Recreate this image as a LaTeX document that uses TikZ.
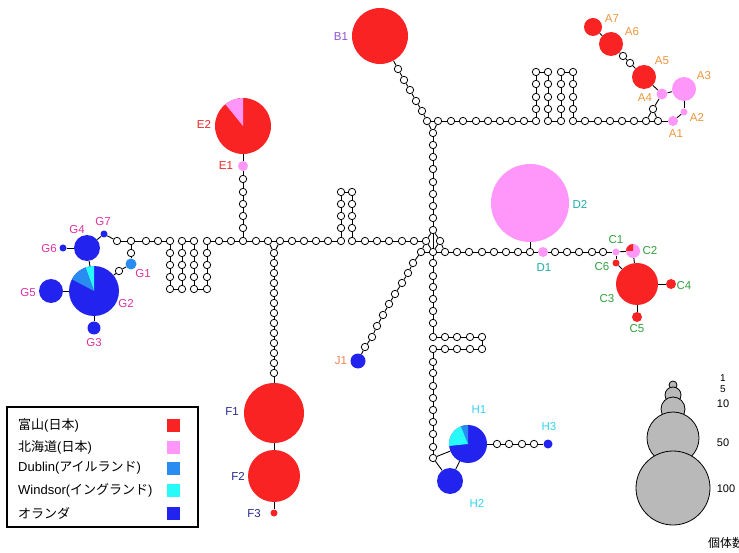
\documentclass[tikz,border=0pt]{standalone}
\usepackage{fontspec}
\setmainfont{Liberation Sans}
\newfontfamily\jp{Noto Sans CJK JP}
\definecolor{hred}{RGB}{250,35,35}
\definecolor{hpink}{RGB}{255,150,250}
\definecolor{hdub}{RGB}{40,140,240}
\definecolor{hwin}{RGB}{40,250,250}
\definecolor{hblue}{RGB}{35,35,240}
\definecolor{hgray}{RGB}{185,185,185}
\definecolor{cA}{RGB}{235,150,60}
\definecolor{cB}{RGB}{140,80,210}
\definecolor{cE}{RGB}{230,40,40}
\definecolor{cD}{RGB}{30,170,170}
\definecolor{cC}{RGB}{50,160,60}
\definecolor{cG}{RGB}{220,50,160}
\definecolor{cJ}{RGB}{240,130,80}
\definecolor{cF}{RGB}{40,40,140}
\definecolor{cH}{RGB}{50,210,240}
\tikzset{
 mut/.style={circle, draw, fill=white, line width=0.8pt, inner sep=0pt, minimum size=7.4pt},
 conn/.style={line width=0.9pt},
 lab/.style={font=\fontsize{11.5}{13}\selectfont, inner sep=0pt},
 legtext/.style={anchor=west, inner sep=0pt, font=\fontsize{13}{15}\selectfont},
 swatch/.style={inner sep=0pt, minimum size=13pt},
 scl/.style={circle, draw, fill=hgray, line width=0.8pt, inner sep=0pt},
 numlab/.style={font=\fontsize{11}{12}\selectfont, inner sep=0pt},
}
\newcommand\hap[4]{\node[circle, inner sep=0pt, minimum size={2*#3pt}, fill=#4] (#1) at (#2) {};}
\newcommand\pieslice[5]{\fill[#5] (#1.center) -- ++(-#3:#2) arc[start angle=-#3, end angle=-#4, radius=#2] -- cycle;}
\newcommand\mchain[2]{%
  \foreach \x/\y [count=\i, remember=\i as \j (initially 0)] in {#2} {%
    \node[mut] (#1\i) at (\x,\y) {};
    \ifnum\i>1 \draw[conn] (#1\j) -- (#1\i);\fi
  }%
}
\begin{document}
\begin{tikzpicture}[x=1pt,y=-1pt]
\useasboundingbox (0,0) rectangle (739,553);

% ---------- haplotypes ----------
\hap{B1}{380,36}{28}{hred}
\hap{E2}{243,126}{28}{hred}
\hap{E1}{243,166}{5}{hpink}
\hap{A1}{673,121}{5}{hpink}
\hap{A2}{684,112}{3.5}{hpink}
\hap{A3}{684,89}{12}{hpink}
\hap{A4}{662,94}{5.5}{hpink}
\hap{A5}{644,77}{12}{hred}
\hap{A6}{611,44}{12}{hred}
\hap{A7}{593,27}{9}{hred}
\hap{D2}{530,203}{39}{hpink}
\hap{D1}{543,252}{5}{hpink}
\hap{C1}{616,252}{3.5}{hpink}
\hap{C2}{633,251}{7}{hpink}
\hap{C6}{616,263}{3.5}{hred}
\hap{C3}{637,284}{21}{hred}
\hap{C4}{671,284}{5}{hred}
\hap{C5}{637,317}{5}{hred}
\hap{G7}{104,234}{3.5}{hblue}
\hap{G4}{87,248}{13}{hblue}
\hap{G6}{63,248}{3.5}{hblue}
\hap{G2}{94,291}{25}{hblue}
\hap{G5}{51,291}{12}{hblue}
\hap{G3}{94,328}{6.5}{hblue}
\hap{G1}{131,264}{5.5}{hdub}
\hap{J1}{358,361}{7.5}{hblue}
\hap{F1}{274,413}{30}{hred}
\hap{F2}{274,476}{26}{hred}
\hap{F3}{274,513}{3.5}{hred}
\hap{H1}{468,444}{19}{hblue}
\hap{H2}{450,481}{13}{hblue}
\hap{H3}{548,444}{4.5}{hblue}

\pieslice{E2}{28}{90}{129}{hpink}
\pieslice{G2}{25}{90}{110}{hwin}
\pieslice{G2}{25}{110}{152}{hdub}
\pieslice{H1}{19}{90}{112}{hdub}
\pieslice{H1}{19}{112}{186}{hwin}
\pieslice{C2}{7}{90}{180}{hred}

% ---------- mutation chains ----------
\mchain{L}{117/241,131/241,146/241,158/241,170/241,170/253,170/265,170/277,170/289,182/289,182/277,182/265,182/253,182/241,194/241,194/253,194/265,194/277,194/289,207/289,207/277,207/265,207/253,207/241,219/241,231/241,243/241,256/241,268/241,280/241,292/241,304/241,316/241,328/241,341/241,341/228,341/216,341/204,341/192,352/192,352/204,352/216,352/228,352/241,365/241,377/241,389/241,402/241,414/241}
\node[mut] (gm1) at (131,253) {};
\node[mut] (gm2) at (119,271) {};
\mchain{Ec}{243/228,243/216,243/204,243/192,243/179}
\mchain{Fc}{274/253,274/263,274/273,274/283,274/293,274/303,274/313,274/323,274/333,274/343,274/353,274/363,274/373}
% hub
\node[mut] (h1) at (433,230) {};
\node[mut] (h2) at (426,241) {};
\node[mut] (h3) at (440,241) {};
\node[mut] (h4) at (421,252) {};
\node[mut] (h5) at (433,252) {};
\node[mut] (h6) at (445,252) {};
\node[mut] (h7) at (433,263) {};
\mchain{Bc}{398/69,404/80,410/90,416/101,422/111,427/121}
\node[mut] (b2) at (438,121) {};
\node[mut] (b3) at (433,133) {};
\mchain{Vc}{433/145,433/157,433/169,433/182,433/194,433/206,433/218}
\mchain{Uc}{451/121,463/121,476/121,488/121,500/121,512/121,524/121,536/121,536/109,536/97,536/84,536/72,548/72,548/84,548/97,548/109,548/121,561/121,561/109,561/97,561/84,561/72,573/72,573/84,573/97,573/109,573/121,585/121,598/121,610/121,622/121,634/121,646/121}
\node[mut] (at1) at (658,121) {};
\node[mut] (at2) at (653,109) {};
\mchain{Ac}{630/63,623/56}
\mchain{Dc}{457/252,469/252,482/252,494/252,506/252,518/252,530/252}
\mchain{Dd}{555/252,567/252,579/252,592/252,603/252}
\mchain{Jc}{413/263,408/273,402/283,395/294,389/304,383/315,377/326,372/337,365/347}
\mchain{Sc}{433/276,433/287,433/299,433/311,433/323,433/337,445/337,457/337,470/337,482/337,482/349,470/349,457/349,445/349,433/349,433/362,433/373,433/386,433/398,433/410,433/422,433/434,433/447,433/458}
\mchain{Hc}{497/444,509/444,522/444,534/444}

% ---------- connectors ----------
\draw[conn] (G6) -- (G4);
\draw[conn] (G4) -- (G7);
\draw[conn] (G7) -- (L1);
\draw[conn] (G4) -- (G2);
\draw[conn] (G5) -- (G2);
\draw[conn] (G2) -- (G3);
\draw[conn] (G2) -- (gm2);
\draw[conn] (gm2) -- (G1);
\draw[conn] (G1) -- (gm1);
\draw[conn] (gm1) -- (L2);
\draw[conn] (L27) -- (Ec1);
\draw[conn] (Ec5) -- (E1);
\draw[conn] (E1) -- (E2);
\draw[conn] (L29) -- (Fc1);
\draw[conn] (L30) -- (Fc1);
\draw[conn] (Fc13) -- (F1);
\draw[conn] (F1) -- (F2);
\draw[conn] (F2) -- (F3);
\draw[conn] (L49) -- (h2);
\draw[conn] (h1) -- (h2);
\draw[conn] (h1) -- (h3);
\draw[conn] (h1) -- (h5);
\draw[conn] (h2) -- (h4);
\draw[conn] (h2) -- (h5);
\draw[conn] (h3) -- (h5);
\draw[conn] (h3) -- (h6);
\draw[conn] (h4) -- (h5);
\draw[conn] (h5) -- (h6);
\draw[conn] (h5) -- (h7);
\draw[conn] (B1) -- (Bc1);
\draw[conn] (Bc6) -- (b2);
\draw[conn] (Bc6) -- (b3);
\draw[conn] (b2) -- (b3);
\draw[conn] (b3) -- (Vc1);
\draw[conn] (Vc7) -- (h1);
\draw[conn] (b2) -- (Uc1);
\draw[conn] (Uc33) -- (at1);
\draw[conn] (Uc33) -- (at2);
\draw[conn] (at1) -- (at2);
\draw[conn] (at1) -- (A1);
\draw[conn] (at2) -- (A4);
\draw[conn] (A1) -- (A2);
\draw[conn] (A2) -- (A3);
\draw[conn] (A3) -- (A4);
\draw[conn] (A4) -- (A5);
\draw[conn] (A5) -- (Ac1);
\draw[conn] (Ac2) -- (A6);
\draw[conn] (A6) -- (A7);
\draw[conn] (h6) -- (Dc1);
\draw[conn] (Dc7) -- (D2);
\draw[conn] (Dc7) -- (D1);
\draw[conn] (D1) -- (Dd1);
\draw[conn] (Dd5) -- (C1);
\draw[conn] (C1) -- (C2);
\draw[conn] (C1) -- (C6);
\draw[conn] (C6) -- (C3);
\draw[conn] (C2) -- (C3);
\draw[conn] (C3) -- (C4);
\draw[conn] (C3) -- (C5);
\draw[conn] (h4) -- (Jc1);
\draw[conn] (Jc9) -- (J1);
\draw[conn] (h7) -- (Sc1);
\draw[conn] (Sc24) -- (H1);
\draw[conn] (Sc24) -- (H2);
\draw[conn] (H1) -- (H2);
\draw[conn] (H1) -- (Hc1);
\draw[conn] (Hc4) -- (H3);

% ---------- labels ----------
\node[lab, text=cA] (lA7) at (612,19) {A7};
\node[lab, text=cA] (lA6) at (632,32) {A6};
\node[lab, text=cA] (lA5) at (662,61) {A5};
\node[lab, text=cA] (lA3) at (704,76) {A3};
\node[lab, text=cA] (lA4) at (645,98) {A4};
\node[lab, text=cA] (lA2) at (697,117) {A2};
\node[lab, text=cA] (lA1) at (676,134) {A1};
\node[lab, text=cB] (lB1) at (341,37) {B1};
\node[lab, text=cE] (lE2) at (204,124) {E2};
\node[lab, text=cE] (lE1) at (226,166) {E1};
\node[lab, text=cD] (lD2) at (580,204) {D2};
\node[lab, text=cD] (lD1) at (544,268) {D1};
\node[lab, text=cC] (lC1) at (616,240) {C1};
\node[lab, text=cC] (lC2) at (650,251) {C2};
\node[lab, text=cC] (lC6) at (602,267) {C6};
\node[lab, text=cC] (lC3) at (607,299) {C3};
\node[lab, text=cC] (lC4) at (684,286) {C4};
\node[lab, text=cC] (lC5) at (637,329) {C5};
\node[lab, text=cG] (lG4) at (77,230) {G4};
\node[lab, text=cG] (lG7) at (103,222) {G7};
\node[lab, text=cG] (lG6) at (49,249) {G6};
\node[lab, text=cG] (lG1) at (143,274) {G1};
\node[lab, text=cG] (lG5) at (28,293) {G5};
\node[lab, text=cG] (lG2) at (126,304) {G2};
\node[lab, text=cG] (lG3) at (94,343) {G3};
\node[lab, text=cJ] (lJ1) at (341,361) {J1};
\node[lab, text=cF] (lF1) at (232,412) {F1};
\node[lab, text=cF] (lF2) at (238,476) {F2};
\node[lab, text=cF] (lF3) at (254,514) {F3};
\node[lab, text=cH] (lH1) at (479,410) {H1};
\node[lab, text=cH] (lH3) at (549,427) {H3};
\node[lab, text=cH] (lH2) at (477,503) {H2};

% ---------- legend ----------
\node[draw, line width=1.8pt, inner sep=0pt, minimum width=191pt, minimum height=120pt] (legend) at (102.5,467) {};
\node[legtext] (t1) at (18,425) {{\jp 富山}({\jp 日本})};
\node[legtext] (t2) at (18,447) {{\jp 北海道}({\jp 日本})};
\node[legtext] (t3) at (18,468) {Dublin({\jp アイルランド})};
\node[legtext] (t4) at (18,490) {Windsor({\jp イングランド})};
\node[legtext] (t5) at (18,513) {{\jp オランダ}};
\node[swatch, fill=hred] (s1) at (173.5,425) {};
\node[swatch, fill=hpink] (s2) at (173.5,447) {};
\node[swatch, fill=hdub] (s3) at (173.5,468) {};
\node[swatch, fill=hwin] (s4) at (173.5,490) {};
\node[swatch, fill=hblue] (s5) at (173.5,513) {};

% ---------- size scale ----------
\node[scl, minimum size=8pt] (k1) at (673,385) {};
\node[scl, minimum size=16pt] (k5) at (673,395) {};
\node[scl, minimum size=24pt] (k10) at (673,409) {};
\node[scl, minimum size=52pt] (k50) at (673,438) {};
\node[scl, minimum size=74pt] (k100) at (673,488) {};
\node[numlab, font=\fontsize{10}{11}\selectfont] (n1) at (723,378.5) {1};
\node[numlab, font=\fontsize{10}{11}\selectfont] (n5) at (723,389) {5};
\node[numlab] (n10) at (723,404) {10};
\node[numlab] (n50) at (723,443) {50};
\node[numlab] (n100) at (726,489) {100};
\node[anchor=west, inner sep=0pt, font=\jp\fontsize{12}{13}\selectfont] (ntitle) at (708,543) {個体数};
\end{tikzpicture}
\end{document}
